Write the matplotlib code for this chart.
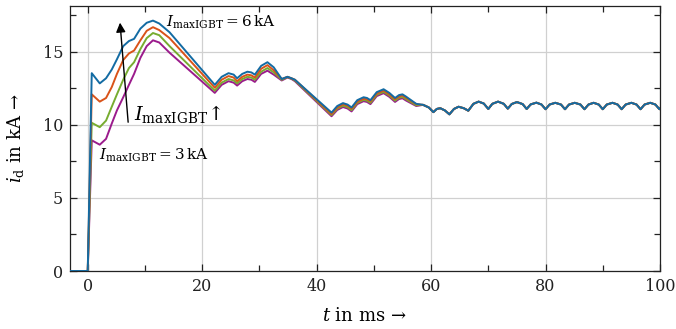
import numpy as np
import matplotlib
matplotlib.use("Agg")
import matplotlib.pyplot as plt
from matplotlib.ticker import MultipleLocator

plt.rcParams['font.family'] = ['DejaVu Serif']
plt.rcParams['mathtext.fontset'] = 'dejavuserif'

# time grid (ms) for the part where the four curves differ
t_start = [-3, 0, 0.7, 2.1, 3.2, 4.2, 5.1, 6.2, 7.2, 8.1, 9.2, 10.3, 11.4, 12.5, 14.3,
           22.2, 23.4, 24.6, 25.5, 26.1, 27.0, 27.9, 28.6, 29.2, 30.3, 31.4, 32.5, 33.9,
           34.9, 35.6, 36.2, 42.6, 43.6, 44.6, 45.4, 46.1, 47.1, 48.2, 48.8, 49.4, 50.5,
           51.7, 52.7, 53.7, 54.4, 55.0, 55.6, 57.4]

# i_d in kA for I_maxIGBT = 6, 5, 4, 3 kA
i_6kA = [0, 0, 13.55, 12.85, 13.2, 13.8, 14.5, 15.4, 15.75, 15.9, 16.6, 17.0, 17.15, 16.95, 16.35,
         12.75, 13.3, 13.55, 13.45, 13.2, 13.5, 13.65, 13.6, 13.45, 14.05, 14.3, 13.95, 13.15,
         13.3, 13.2, 13.1, 10.85, 11.3, 11.5, 11.4, 11.2, 11.7, 11.9, 11.85, 11.7, 12.25,
         12.45, 12.2, 11.85, 12.05, 12.1, 11.95, 11.45]
i_5kA = [0, 0, 12.1, 11.6, 11.85, 12.6, 13.5, 14.45, 14.9, 15.1, 15.8, 16.45, 16.7, 16.5, 15.95,
         12.55, 13.1, 13.35, 13.25, 13.0, 13.3, 13.45, 13.4, 13.25, 13.85, 14.1, 13.75, 13.15,
         13.3, 13.2, 13.1, 10.75, 11.2, 11.42, 11.32, 11.12, 11.6, 11.8, 11.76, 11.62, 12.15,
         12.36, 12.1, 11.77, 11.96, 12.02, 11.87, 11.42]
i_4kA = [0, 0, 10.15, 9.85, 10.3, 11.25, 12.1, 13.1, 13.9, 14.3, 15.2, 15.95, 16.3, 16.15, 15.4,
         12.35, 12.9, 13.15, 13.05, 12.85, 13.15, 13.3, 13.25, 13.1, 13.65, 13.9, 13.6, 13.1,
         13.28, 13.18, 13.05, 10.68, 11.12, 11.32, 11.22, 11.02, 11.52, 11.72, 11.67, 11.52, 12.07,
         12.27, 12.02, 11.67, 11.87, 11.92, 11.77, 11.35]
i_3kA = [0, 0, 8.95, 8.65, 9.05, 10.1, 11.0, 11.9, 12.75, 13.5, 14.6, 15.4, 15.8, 15.65, 14.95,
         12.2, 12.75, 13.0, 12.9, 12.7, 13.0, 13.15, 13.1, 12.95, 13.5, 13.72, 13.45, 13.05,
         13.25, 13.15, 13.0, 10.6, 11.03, 11.23, 11.13, 10.93, 11.43, 11.63, 11.58, 11.43, 11.98,
         12.18, 11.93, 11.58, 11.78, 11.83, 11.68, 11.3]

# common tail (all four curves coincide)
t_tail = [58.6, 59.6, 60.4, 61.0, 61.6, 62.4, 63.2, 64.0, 64.8, 65.7, 66.5, 67.4, 68.3, 69.2,
          70.0, 70.7, 71.7, 72.7, 73.4, 74.1, 75.0, 76.0, 76.7, 77.4, 78.4, 79.3, 80.0,
          80.7, 81.7, 82.7, 83.4, 84.1, 85.1, 86.1, 86.8, 87.5, 88.4, 89.3, 90.0,
          90.7, 91.7, 92.6, 93.3, 94.0, 95.0, 95.9, 96.6, 97.3, 98.3, 99.2, 99.9, 100.5]
i_tail = [11.38, 11.2, 10.88, 11.1, 11.15, 11.0, 10.73, 11.1, 11.25, 11.15, 10.98, 11.45, 11.6, 11.47,
          11.1, 11.45, 11.6, 11.45, 11.12, 11.44, 11.57, 11.43, 11.1, 11.41, 11.53, 11.4, 11.08,
          11.4, 11.52, 11.4, 11.08, 11.4, 11.52, 11.4, 11.08, 11.4, 11.52, 11.4, 11.08,
          11.4, 11.52, 11.4, 11.08, 11.4, 11.52, 11.4, 11.08, 11.4, 11.52, 11.4, 11.08, 11.4]

series = [(i_3kA, '#9b1b8c'), (i_4kA, '#77ac30'), (i_5kA, '#d95319'), (i_6kA, '#136ba3')]

fig = plt.figure(figsize=(6.76, 3.29), dpi=100)
ax = fig.add_axes([70 / 676, 58 / 329, 590 / 676, 265 / 329])

for vals, col in series:
    t = np.concatenate([t_start, t_tail])
    y = np.concatenate([vals, i_tail])
    ax.plot(t, y, color=col, lw=1.4, zorder=3)

ax.set_xlim(-3.1, 100)
ax.set_ylim(0, 18.15)
ax.xaxis.set_major_locator(MultipleLocator(20))
ax.xaxis.set_minor_locator(MultipleLocator(10))
ax.yaxis.set_major_locator(MultipleLocator(5))
ax.yaxis.set_minor_locator(MultipleLocator(2.5))
ax.grid(True, which='major', color='#d0d0d0', lw=0.9, zorder=0)
ax.tick_params(which='both', direction='in', top=True, right=True, labelsize=11.5, colors='#222222')
ax.tick_params(which='major', length=5, width=0.9, pad=5)
ax.tick_params(which='minor', length=4, width=0.9)
for sp in ax.spines.values():
    sp.set_linewidth(0.9)
    sp.set_color('#222222')

ax.set_xlabel(r'$t$ in ms$\,\rightarrow$', fontsize=13, labelpad=9)
ax.set_ylabel(r'$i_\mathrm{d}$ in kA$\,\rightarrow$', fontsize=13, labelpad=12)

ax.annotate('', xy=(5.6, 17.2), xytext=(7.1, 10.0),
            arrowprops=dict(arrowstyle='-|>', color='black', lw=1.0, mutation_scale=14), zorder=5)
ax.text(13.7, 17.05, r'$I_\mathrm{maxIGBT} = 6\,\mathrm{kA}$', fontsize=11, va='center', ha='left')
ax.text(2.0, 7.9, r'$I_\mathrm{maxIGBT} = 3\,\mathrm{kA}$', fontsize=11, va='center', ha='left')
ax.text(8.0, 10.75, r'$I_\mathrm{maxIGBT}\!\uparrow$', fontsize=14, va='center', ha='left')

fig.savefig('out.png', dpi=100)
